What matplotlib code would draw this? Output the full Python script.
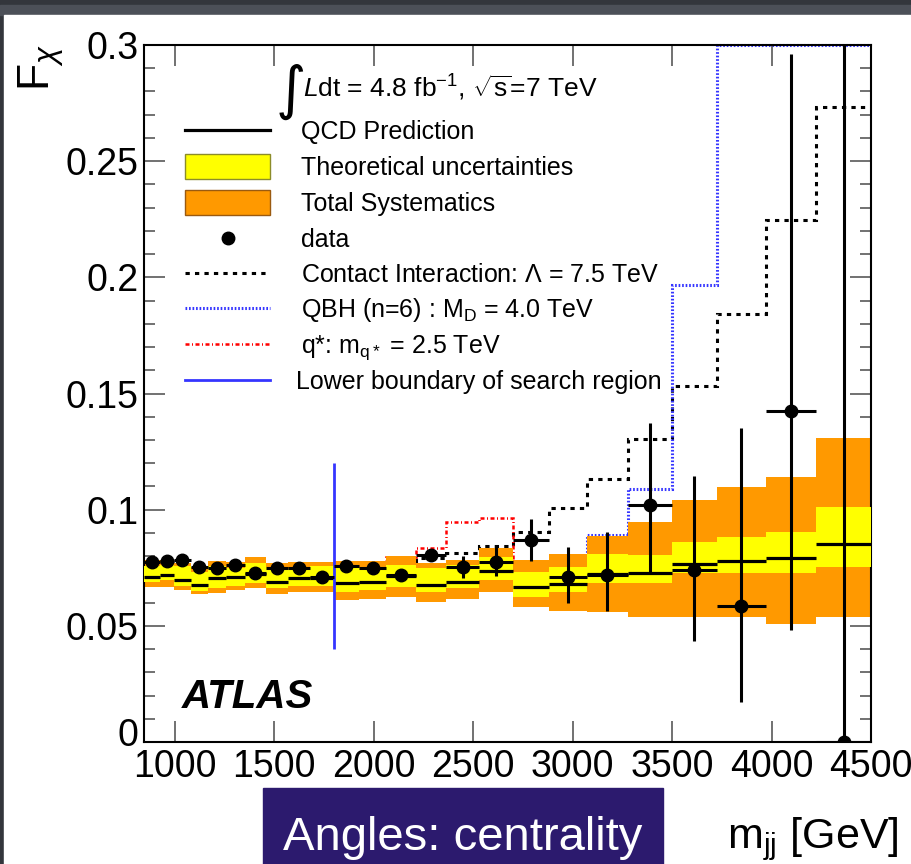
import numpy as np
import matplotlib
matplotlib.use("Agg")
import matplotlib.pyplot as plt
from matplotlib.patches import Rectangle
from matplotlib.lines import Line2D
from matplotlib.ticker import MultipleLocator
from matplotlib.transforms import ScaledTranslation

plt.rcParams['font.family'] = ['Liberation Sans', 'DejaVu Sans']
plt.rcParams['mathtext.fontset'] = 'custom'
plt.rcParams['mathtext.rm'] = 'Liberation Sans'
plt.rcParams['mathtext.it'] = 'Liberation Sans:italic'
plt.rcParams['mathtext.bf'] = 'Liberation Sans:bold'

# ---- dijet mass bins [GeV] ----
mjj_edges = [845, 925, 995, 1080, 1166, 1256, 1351, 1457, 1567, 1682, 1798,
             1928, 2064, 2214, 2365, 2530, 2701, 2881, 3072, 3278, 3498,
             3724, 3970, 4226, 4500]

# ---- QCD prediction and uncertainty bands ----
qcd = [0.0711, 0.0719, 0.0697, 0.0676, 0.0708, 0.0711, 0.0722, 0.0689,
       0.0704, 0.0708, 0.0683, 0.0689, 0.0715, 0.0675, 0.0689, 0.0737,
       0.0669, 0.0682, 0.0723, 0.0726, 0.0764, 0.0779, 0.0793, 0.0852]
theory_lo = [0.0690, 0.0697, 0.0671, 0.0650, 0.0662, 0.0672, 0.0683, 0.0662,
             0.0672, 0.0670, 0.0647, 0.0654, 0.0668, 0.0647, 0.0661, 0.0697,
             0.0626, 0.0646, 0.0686, 0.0683, 0.0726, 0.0726, 0.0728, 0.0754]
theory_hi = [0.0758, 0.0762, 0.0756, 0.0730, 0.0758, 0.0751, 0.0769, 0.0753,
             0.0751, 0.0756, 0.0749, 0.0748, 0.0762, 0.0748, 0.0762, 0.0797,
             0.0733, 0.0753, 0.0809, 0.0805, 0.0862, 0.0882, 0.0906, 0.1012]
syst_lo = [0.0666, 0.0668, 0.0654, 0.0635, 0.0640, 0.0654, 0.0661, 0.0637,
           0.0646, 0.0646, 0.0612, 0.0616, 0.0625, 0.0604, 0.0614, 0.0646,
           0.0579, 0.0565, 0.0560, 0.0539, 0.0537, 0.0537, 0.0508, 0.0537]
syst_hi = [0.0783, 0.0783, 0.0770, 0.0753, 0.0779, 0.0776, 0.0798, 0.0770,
           0.0776, 0.0776, 0.0777, 0.0777, 0.0800, 0.0770, 0.0783, 0.0833,
           0.0783, 0.0809, 0.0886, 0.0948, 0.1042, 0.1096, 0.1140, 0.1307]

# ---- measured F_chi ----
data = [0.0775, 0.0778, 0.0785, 0.0753, 0.0749, 0.0762, 0.0727, 0.0747,
        0.0751, 0.0712, 0.0758, 0.0748, 0.0718, 0.0805, 0.0753, 0.0775,
        0.0870, 0.0710, 0.0719, 0.1020, 0.0740, 0.0586, 0.1426, 0.0]
data_err_up = [0.0015, 0.0015, 0.0025, 0.0015, 0.0015, 0.0015, 0.0018, 0.0018,
               0.0018, 0.0020, 0.0020, 0.0020, 0.0022, 0.0025, 0.0048, 0.0066,
               0.0090, 0.0130, 0.0187, 0.0352, 0.0405, 0.0764, 0.1534, 0.3800]
data_err_dn = [0.0015, 0.0015, 0.0015, 0.0015, 0.0015, 0.0015, 0.0018, 0.0018,
               0.0018, 0.0020, 0.0020, 0.0020, 0.0022, 0.0025, 0.0045, 0.0061,
               0.0091, 0.0111, 0.0157, 0.0294, 0.0304, 0.0412, 0.0944, 0.0]

# ---- new-physics benchmarks ----
contact_int = [0.0715, 0.0723, 0.0702, 0.0682, 0.0714, 0.0718, 0.0730, 0.0698,
               0.0714, 0.0719, 0.0697, 0.0706, 0.0740, 0.0790, 0.0812, 0.0845,
               0.0905, 0.1006, 0.1131, 0.1303, 0.1533, 0.1841, 0.2245, 0.2735]
qbh = [0.0712, 0.0720, 0.0699, 0.0678, 0.0710, 0.0713, 0.0725, 0.0692,
       0.0707, 0.0712, 0.0688, 0.0696, 0.0724, 0.0688, 0.0705, 0.0758,
       0.0700, 0.0780, 0.0892, 0.1088, 0.1967, 0.36, 0.47, 0.58]
qstar = [0.0713, 0.0721, 0.0700, 0.0680, 0.0712, 0.0716, 0.0727, 0.0695,
         0.0711, 0.0716, 0.0694, 0.0705, 0.0798, 0.0834, 0.0948, 0.0962,
         0.0760, 0.0700, 0.0740, 0.0745, 0.0780, 0.0795, 0.0810, 0.0870]

search_lower_bound = 1798

xtick_values = [1000, 1500, 2000, 2500, 3000, 3500, 4000, 4500]
xtick_labels = ["1000", "1500", "2000", "2500", "3000", "3500", "4000", "4500"]
ytick_values = [0, 0.05, 0.1, 0.15, 0.2, 0.25, 0.3]
ytick_labels = ["0", "0.05", "0.1", "0.15", "0.2", "0.25", "0.3"]

legend_labels = [
    "QCD Prediction",
    "Theoretical uncertainties",
    "Total Systematics",
    "data",
    r"Contact Interaction: $\Lambda$ = 7.5 TeV",
    r"QBH (n=6) : M$_{\mathrm{D}}$ = 4.0 TeV",
    r"q*: m$_{\mathrm{q*}}$ = 2.5 TeV",
    "Lower boundary of search region",
]

# ---- styling ----
YELLOW = '#ffff00'
ORANGE = '#ff9900'
BLUE = '#3535ff'
RED = '#ff0000'
CI_STYLE = (0, (1.4, 1.7))
QBH_STYLE = (0, (0.55, 0.6))
QSTAR_STYLE = (0, (1.6, 1.0, 0.4, 1.0))
QBH_LW = 2.2

W, H = 911, 864
fig = plt.figure(figsize=(W / 100, H / 100), dpi=100)
fig.patch.set_facecolor('#33363c')

# slide background and white panel
fig.add_artist(Rectangle((0, 1 - 15 / H), 1, 10 / H, transform=fig.transFigure,
                         color='#4c5058', zorder=0))
fig.add_artist(Rectangle((4 / W, 0), 1, (H - 15) / H, transform=fig.transFigure,
                         color='white', zorder=0))

AX_L, AX_R, AX_T, AX_B = 144, 871, 45, 742
ax = fig.add_axes([AX_L / W, (H - AX_B) / H, (AX_R - AX_L) / W, (AX_B - AX_T) / H])
ax.set_facecolor('white')


def afrac(px, py):
    return (px - AX_L) / (AX_R - AX_L), (AX_B - py) / (AX_B - AX_T)


edges = np.asarray(mjj_edges, dtype=float)
centers = 0.5 * (edges[:-1] + edges[1:])
halfw = 0.5 * np.diff(edges)
ymax = 0.3

# model curves sit underneath the SM bands
ax.stairs(contact_int, edges, baseline=None, color='black', lw=2.2,
          linestyle=CI_STYLE, zorder=1)
ax.stairs(np.minimum(qbh, ymax), edges, baseline=None, color=BLUE, lw=QBH_LW,
          linestyle=QBH_STYLE, zorder=1, clip_on=False)
ax.stairs(qstar, edges, baseline=None, color=RED, lw=1.8,
          linestyle=QSTAR_STYLE, zorder=1)

ax.stairs(syst_hi, edges, baseline=syst_lo, fill=True, color=ORANGE, lw=0, zorder=2)
ax.stairs(theory_hi, edges, baseline=theory_lo, fill=True, color=YELLOW, lw=0, zorder=3)
ax.hlines(qcd, edges[:-1], edges[1:], color='black', lw=2.3, zorder=4)

ax.errorbar(centers, data, yerr=[data_err_dn, data_err_up], xerr=halfw,
            fmt='o', color='black', ms=9, lw=2.2, capsize=0, zorder=6)

ax.vlines(search_lower_bound, 0.04, 0.12, color=BLUE, lw=2.0, zorder=5)

ax.set_xlim(edges[0], 4500)
ax.set_ylim(0, ymax)
ax.set_xticks(xtick_values, xtick_labels)
ax.set_yticks(ytick_values, ytick_labels)
ax.yaxis.set_minor_locator(MultipleLocator(0.01))
ax.tick_params(which='both', direction='in', top=True, right=True,
               color='#4a4a4a', width=1.1, labelsize=27)
ax.tick_params(which='major', length=15)
ax.tick_params(which='minor', length=8)
ax.tick_params(axis='x', pad=5)
ax.tick_params(axis='y', pad=4)
for sp in ax.spines.values():
    sp.set_linewidth(1.5)
    sp.set_color('black')

# lift the "0" label a little so it clears the x labels
for lbl in ax.yaxis.get_majorticklabels():
    if lbl.get_text() == "0":
        lbl.set_transform(lbl.get_transform() +
                          ScaledTranslation(0, 7 / 72, fig.dpi_scale_trans))

# ---- legend ----
row_y = [130, 166, 202, 238, 273, 308, 344, 380]
hx0, hx1 = afrac(185, 0)[0], afrac(270, 0)[0]
tx = afrac(301, 0)[0]
for i, (lab, ry) in enumerate(zip(legend_labels, row_y)):
    yf = afrac(0, ry)[1]
    ax.text(tx - (0.007 if i == 7 else 0), afrac(0, ry + 9)[1], lab, transform=ax.transAxes,
            fontsize=18, ha='left', va='baseline', zorder=10)
    if i == 0:
        ax.add_line(Line2D([hx0, hx1], [yf, yf], transform=ax.transAxes, color='black',
                           lw=2.3, clip_on=False, zorder=10))
    elif i in (1, 2):
        y0 = afrac(0, ry + 12.5)[1]
        y1 = afrac(0, ry - 12.5)[1]
        ax.add_patch(Rectangle((hx0, y0), hx1 - hx0, y1 - y0, transform=ax.transAxes,
                               facecolor=YELLOW if i == 1 else ORANGE,
                               edgecolor='#8c8c2a' if i == 1 else '#9a5a10',
                               lw=1.0, zorder=10))
    elif i == 3:
        ax.add_line(Line2D([afrac(228, 0)[0]], [yf], transform=ax.transAxes, marker='o',
                           ms=9, color='black', lw=0, zorder=10))
    elif i == 4:
        ax.add_line(Line2D([hx0, hx1], [yf, yf], transform=ax.transAxes, color='black',
                           lw=2.2, linestyle=CI_STYLE, zorder=10))
    elif i == 5:
        ax.add_line(Line2D([hx0, hx1], [yf, yf], transform=ax.transAxes, color=BLUE,
                           lw=QBH_LW, linestyle=QBH_STYLE, zorder=10))
    elif i == 6:
        ax.add_line(Line2D([hx0, hx1], [yf, yf], transform=ax.transAxes, color=RED,
                           lw=1.8, linestyle=QSTAR_STYLE, zorder=10))
    else:
        ax.add_line(Line2D([hx0, hx1], [yf, yf], transform=ax.transAxes, color=BLUE,
                           lw=2.0, zorder=10))

# luminosity / energy annotation
ix, iy = afrac(291, 108)
ax.text(ix, iy, "\u222b", transform=ax.transAxes, fontsize=42, ha='center',
        va='baseline', family='DejaVu Sans', zorder=10)
lx, ly = afrac(303, 97)
ax.text(lx, ly, r"$L$dt = 4.8 fb$^{\mathregular{-1}}$, $\sqrt{\mathregular{s}}$=7 TeV",
        transform=ax.transAxes, fontsize=19, ha='left', va='baseline', zorder=10)

# experiment label
ax.text(*afrac(182, 708), "ATLAS", transform=ax.transAxes, fontsize=29,
        fontweight='bold', fontstyle='italic', ha='left', va='baseline', zorder=10)

# axis titles
fig.text(41 / W, 1 - 44 / H, r"F$_{\chi}$", rotation=90, ha='center', va='top',
         fontsize=32)
fig.text(899 / W, 1 - 848 / H, r"m$_{\mathrm{jj}}$ [GeV]", ha='right',
         va='baseline', fontsize=31)

# caption box
fig.add_artist(Rectangle((263 / W, 0), 400 / W, 76 / H, transform=fig.transFigure,
                         color='#2c1a6e', zorder=3))
fig.text(463 / W, 1 - 850 / H, "Angles: centrality", ha='center', va='baseline',
         fontsize=34, color='white', zorder=4)

fig.savefig('out.png', dpi=100, facecolor=fig.get_facecolor())
